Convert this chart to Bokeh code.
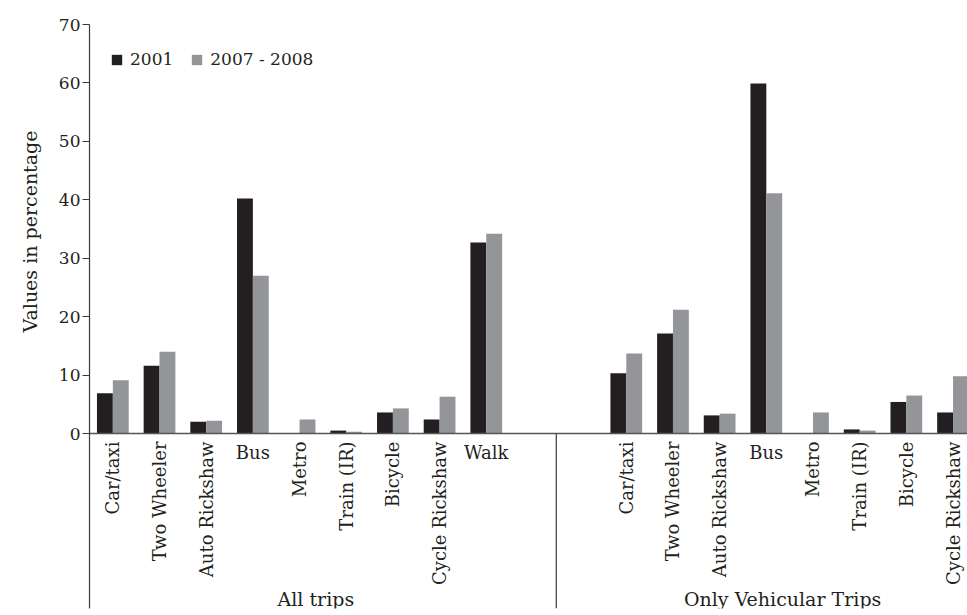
from math import pi
from bokeh.plotting import figure
from bokeh.models import (Range1d, FixedTicker, Span, ColumnDataSource, Legend,
                          LegendItem, LabelSet, Title)
from bokeh.core.properties import value
from bokeh.embed import file_html
from bokeh.resources import INLINE

# ---- data ----
groups = ["All trips", "Only Vehicular Trips"]
cat_all = ["Car/taxi", "Two Wheeler", "Auto Rickshaw", "Bus", "Metro",
           "Train (IR)", "Bicycle", "Cycle Rickshaw", "Walk"]
cat_veh = ["Car/taxi", "Two Wheeler", "Auto Rickshaw", "Bus", "Metro",
           "Train (IR)", "Bicycle", "Cycle Rickshaw"]
all_2001 = [6.9, 11.6, 2.0, 40.2, 0.0, 0.5, 3.6, 2.4, 32.7]
all_2007 = [9.1, 14.0, 2.2, 27.0, 2.4, 0.3, 4.3, 6.3, 34.2]
veh_2001 = [10.3, 17.1, 3.1, 59.9, 0.0, 0.7, 5.4, 3.6]
veh_2007 = [13.7, 21.2, 3.4, 41.1, 3.6, 0.5, 6.5, 9.8]
series = ["2001", "2007 - 2008"]
y_ticks = [0, 10, 20, 30, 40, 50, 60, 70]
y_title = "Values in percentage"

# ---- layout of category slots (slot units) ----
GROUP_SLOTS = 10
x_all = [i + 0.5 for i in range(len(cat_all))]
x_veh = [GROUP_SLOTS + 1 + i + 0.5 for i in range(len(cat_veh))]
xs = x_all + x_veh
labels = cat_all + cat_veh
v2001 = all_2001 + veh_2001
v2007 = all_2007 + veh_2007

BAR_W = 0.34
Y_BOTTOM = -29.95
FONT = value("DejaVu Serif")
BLACK = "#231f20"
GREY = "#939598"
AXIS_C = "#3a3a3a"
TXT = "#231f20"

src = ColumnDataSource(dict(
    x1=[x - BAR_W / 2 for x in xs],
    x2=[x + BAR_W / 2 for x in xs],
    v1=v2001, v2=v2007,
))

p = figure(width=967, height=615,
           x_range=Range1d(0, 18.81), y_range=Range1d(Y_BOTTOM, 70),
           output_backend="svg", toolbar_location=None,
           min_border_left=89, min_border_right=0,
           min_border_top=24, min_border_bottom=7)

r1 = p.vbar(x="x1", top="v1", bottom=0, width=BAR_W, source=src,
            fill_color=BLACK, line_color=None)
r2 = p.vbar(x="x2", top="v2", bottom=0, width=BAR_W, source=src,
            fill_color=GREY, line_color=None)

# baseline (value axis zero)
p.add_layout(Span(location=0, dimension="width", line_color="#555555", line_width=1.3))

# group separators extending below the axis
seps = [GROUP_SLOTS, 2 * GROUP_SLOTS]
p.segment(x0=seps, y0=[0] * len(seps), x1=seps, y1=[Y_BOTTOM] * len(seps),
          line_color=AXIS_C, line_width=1.2)

# category labels
vert = [i for i, t in enumerate(labels) if len(t) > 4]
horz = [i for i, t in enumerate(labels) if len(t) <= 4]
p.text(x=[xs[i] for i in vert], y=[-1.37] * len(vert), text=[labels[i] for i in vert],
       angle=pi / 2, text_align="right", text_baseline="middle",
       text_font=FONT, text_font_size="18px", text_color=TXT)
p.text(x=[xs[i] for i in horz], y=[-1.37] * len(horz), text=[labels[i] for i in horz],
       text_align="center", text_baseline="top",
       text_font=FONT, text_font_size="18px", text_color=TXT)

# group labels
gsrc = ColumnDataSource(dict(x=[GROUP_SLOTS / 2 - 0.15, GROUP_SLOTS * 1.5 - 0.15],
                             y=[-28.3, -28.3], text=groups))
p.add_layout(LabelSet(x="x", y="y", text="text", source=gsrc,
                      text_align="center", text_baseline="middle",
                      text_font=value("DejaVu Serif"), text_font_size=value("19px"),
                      text_color=value(TXT)))

# value-axis title, placed beside the 0-70 part of the axis
p.add_layout(Title(text=y_title, align="left", offset=276, standoff=30,
                   text_font="DejaVu Serif", text_font_size="19px",
                   text_font_style="normal", text_color=TXT), "left")

# axes
p.xaxis.visible = False
p.xgrid.visible = False
p.ygrid.visible = False
p.outline_line_color = None
yax = p.yaxis[0]
yax.ticker = FixedTicker(ticks=y_ticks)
yax.minor_tick_line_color = None
yax.major_tick_in = 0
yax.major_tick_out = 7
yax.major_label_standoff = 2
yax.axis_line_color = AXIS_C
yax.axis_line_width = 1.2
yax.major_tick_line_color = AXIS_C
yax.major_tick_line_width = 1.2
yax.major_label_text_font = "DejaVu Serif"
yax.major_label_text_font_size = "17px"
yax.major_label_text_color = TXT

legend = Legend(items=[LegendItem(label=series[0], renderers=[r1]),
                       LegendItem(label=series[1], renderers=[r2])],
                orientation="horizontal", location=(21, 539),
                glyph_width=13, glyph_height=13, label_standoff=7, spacing=17,
                padding=0, margin=0, border_line_color=None,
                background_fill_alpha=0,
                label_text_font="DejaVu Serif", label_text_font_size="17px",
                label_text_color=TXT)
p.add_layout(legend)

p.background_fill_color = "white"
p.border_fill_color = "white"

open("out.html", "w").write(file_html(p, INLINE))
